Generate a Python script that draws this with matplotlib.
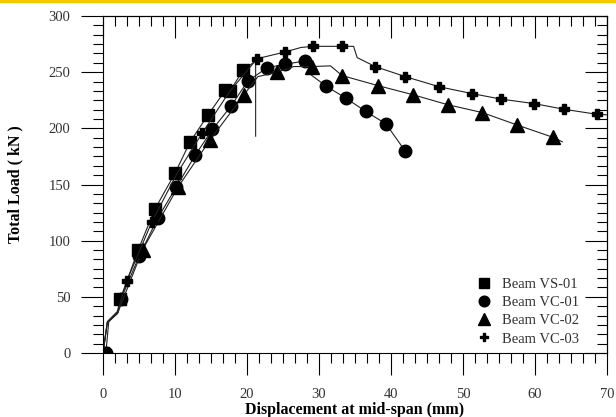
import numpy as np
import matplotlib
matplotlib.use('Agg')
import matplotlib.pyplot as plt
from matplotlib.ticker import MultipleLocator, AutoMinorLocator
from matplotlib.patches import Rectangle

# load-displacement curves
vs01_x = np.array([0, 0.6, 2.0, 2.4, 4.9, 7.2, 10.0, 12.1, 14.6, 17.0, 17.6, 19.5, 21.2, 21.2])
vs01_y = np.array([0, 28, 37, 48, 92, 128, 160, 188, 212, 234, 233, 252, 260, 193])
vs01_marks = [0, 3, 4, 5, 6, 7, 8, 9, 10, 11]

vc01_x = np.array([0.4, 0.8, 2.1, 2.5, 5.0, 7.6, 10.2, 12.8, 15.2, 17.8, 20.1, 22.8, 25.3,
                   28.0, 28.6, 28.6, 31.0, 33.7, 36.5, 39.3, 42.0])
vc01_y = np.array([0, 28, 36, 48, 86, 120, 148, 176, 199, 220, 242, 254, 257,
                   260, 258, 249, 237.5, 227, 215, 204, 179.5])
vc01_marks = [0, 3, 4, 5, 6, 7, 8, 9, 10, 11, 12, 13, 16, 17, 18, 19, 20]

vc02_x = np.array([0, 0.6, 2.0, 5.5, 10.4, 14.9, 19.6, 21.5, 24.2, 26.5, 29.0, 31.6,
                   33.2, 38.2, 43.0, 47.9, 52.7, 57.5, 62.5, 63.8])
vc02_y = np.array([0, 27, 35, 92, 147.5, 190, 230, 246, 250, 255, 255, 255.6,
                   247, 238, 230, 221, 214, 203, 192, 188])
vc02_marks = [0, 3, 4, 5, 6, 8, 10, 12, 13, 14, 15, 16, 17, 18]

vc03_x = np.array([0, 0.6, 2.0, 3.3, 6.8, 10.3, 13.8, 17.5, 21.4, 25.3, 27.5, 29.2, 33.2,
                   34.8, 35.3, 37.8, 42.0, 46.7, 51.2, 55.3, 59.9, 64.0, 68.6, 70])
vc03_y = np.array([0, 27, 36, 64, 117, 160, 196, 232, 262, 268, 272, 273, 273,
                   273, 263, 255, 246, 237, 231, 226, 222, 217, 212.5, 212])
vc03_marks = [3, 4, 6, 8, 9, 11, 12, 15, 16, 17, 18, 19, 20, 21, 22]

series = [
  ("Beam VS-01", vs01_x, vs01_y, vs01_marks, 's', 8.5),
  ("Beam VC-01", vc01_x, vc01_y, vc01_marks, 'o', 9),
  ("Beam VC-02", vc02_x, vc02_y, vc02_marks, '^', 9.5),
  ("Beam VC-03", vc03_x, vc03_y, vc03_marks, 'P', 7.5),
]

plt.rcParams['font.family'] = ['Liberation Serif', 'DejaVu Serif']

fig = plt.figure(figsize=(6.16, 4.17), dpi=100)
ax = fig.add_axes([103/616., 64/417., 504/616., 337/417.])

for name, x, y, marks, mk, ms in series:
  ax.plot(x, y, color='#222222', lw=0.8)
  ax.plot(x[marks], y[marks], ls='none', marker=mk, ms=ms, color='black', label=name)

ax.set_xlim(0, 70)
ax.set_ylim(0, 300)
ax.xaxis.set_major_locator(MultipleLocator(10))
ax.yaxis.set_major_locator(MultipleLocator(50))
ax.xaxis.set_minor_locator(AutoMinorLocator(6))
ax.yaxis.set_minor_locator(AutoMinorLocator(6))
ax.tick_params(which='major', direction='out', length=15.5, width=0.8, pad=8,
               labelsize=10.5, labelcolor='#333333')
ax.tick_params(axis='x', which='major', pad=9.5)
ax.tick_params(which='minor', direction='out', length=7, width=0.8)
for s in ax.spines.values():
  s.set_linewidth(0.8)

# top and right sides carry inward ticks without labels
top = ax.secondary_xaxis('top')
right = ax.secondary_yaxis('right')
top.xaxis.set_major_locator(MultipleLocator(10))
top.xaxis.set_minor_locator(AutoMinorLocator(6))
right.yaxis.set_major_locator(MultipleLocator(50))
right.yaxis.set_minor_locator(AutoMinorLocator(6))
for sec in (top, right):
  sec.tick_params(which='major', direction='in', length=15.5, width=0.8)
  sec.tick_params(which='minor', direction='in', length=7, width=0.8)
  sec.tick_params(labeltop=False, labelright=False)
  for s in sec.spines.values():
    s.set_linewidth(0.8)

ax.set_xlabel("Displacement at mid-span (mm)", fontsize=11.5, fontweight='bold', labelpad=1)
ax.set_ylabel("Total Load ( kN )", fontsize=11.5, fontweight='bold', labelpad=18)

leg = ax.legend(loc='lower right', bbox_to_anchor=(0.97, -0.017), frameon=False,
                fontsize=10.5, handletextpad=0.6, labelspacing=0.35, handlelength=1.2,
                markerscale=0.85, labelcolor='#333333')

fig.patches.append(Rectangle((0, 1 - 2/417.), 1, 2/417., transform=fig.transFigure,
                             color='#F5C800', zorder=10))

plt.savefig('out.png', dpi=100)
